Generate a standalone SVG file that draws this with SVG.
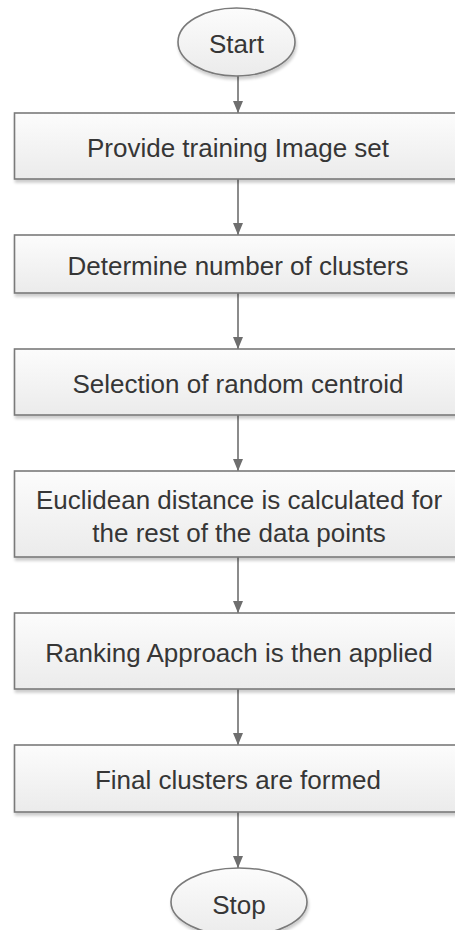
<svg xmlns="http://www.w3.org/2000/svg" width="455" height="930" viewBox="0 0 455 930">
<style>
.box{fill:url(#g);stroke:#7a7a7a;stroke-width:1.6;filter:url(#sh)}
.t{font-family:"Liberation Sans",Arial,sans-serif;font-size:26px;fill:#363636;text-anchor:middle}
.c{stroke:#6e6e6e;stroke-width:1.6;fill:none;marker-end:url(#ah)}
</style>
<defs>
<linearGradient id="g" x1="0" y1="0" x2="0" y2="1">
<stop offset="0" stop-color="#fcfcfc"/>
<stop offset="1" stop-color="#ebebeb"/>
</linearGradient>
<filter id="sh" x="-5%" y="-10%" width="115%" height="130%">
<feGaussianBlur in="SourceAlpha" stdDeviation="1.5"/>
<feOffset dx="1" dy="3" result="b"/>
<feComponentTransfer><feFuncA type="linear" slope="0.2"/></feComponentTransfer>
<feMerge><feMergeNode/><feMergeNode in="SourceGraphic"/></feMerge>
</filter>
<marker id="ah" viewBox="0 0 12 10" refX="12" refY="5" markerWidth="12" markerHeight="10" markerUnits="userSpaceOnUse" orient="auto">
<path d="M0,0 L12,5 L0,10 z" fill="#6e6e6e"/>
</marker>
</defs>
<g id="connectors">
<line class="c" x1="238" y1="76" x2="238" y2="113"/>
<line class="c" x1="238" y1="179" x2="238" y2="235"/>
<line class="c" x1="238" y1="293" x2="238" y2="349"/>
<line class="c" x1="238" y1="415" x2="238" y2="471"/>
<line class="c" x1="238" y1="557" x2="238" y2="613"/>
<line class="c" x1="238" y1="689" x2="238" y2="745"/>
<line class="c" x1="238" y1="812" x2="238" y2="868"/>
</g>
<g id="start">
<ellipse class="box" cx="236.5" cy="42" rx="58.5" ry="34"/>
<text class="t" x="236.5" y="53">Start</text>
</g>
<g id="n1">
<rect class="box" x="14.5" y="113" width="448" height="66"/>
<text class="t" x="238" y="157">Provide training Image set</text>
</g>
<g id="n2">
<rect class="box" x="14.5" y="235" width="448" height="58"/>
<text class="t" x="238" y="275">Determine number of clusters</text>
</g>
<g id="n3">
<rect class="box" x="14.5" y="349" width="448" height="66"/>
<text class="t" x="238" y="393">Selection of random centroid</text>
</g>
<g id="n4">
<rect class="box" x="14.5" y="471" width="448" height="86"/>
<text class="t" x="239" y="509">Euclidean distance is calculated for</text>
<text class="t" x="239" y="542">the rest of the data points</text>
</g>
<g id="n5">
<rect class="box" x="14.5" y="613" width="448" height="76"/>
<text class="t" x="239" y="662">Ranking Approach is then applied</text>
</g>
<g id="n6">
<rect class="box" x="14.5" y="745" width="448" height="67"/>
<text class="t" x="238" y="789">Final clusters are formed</text>
</g>
<g id="stop">
<ellipse class="box" cx="239" cy="902" rx="68" ry="34"/>
<text class="t" x="239" y="914">Stop</text>
</g>
</svg>
